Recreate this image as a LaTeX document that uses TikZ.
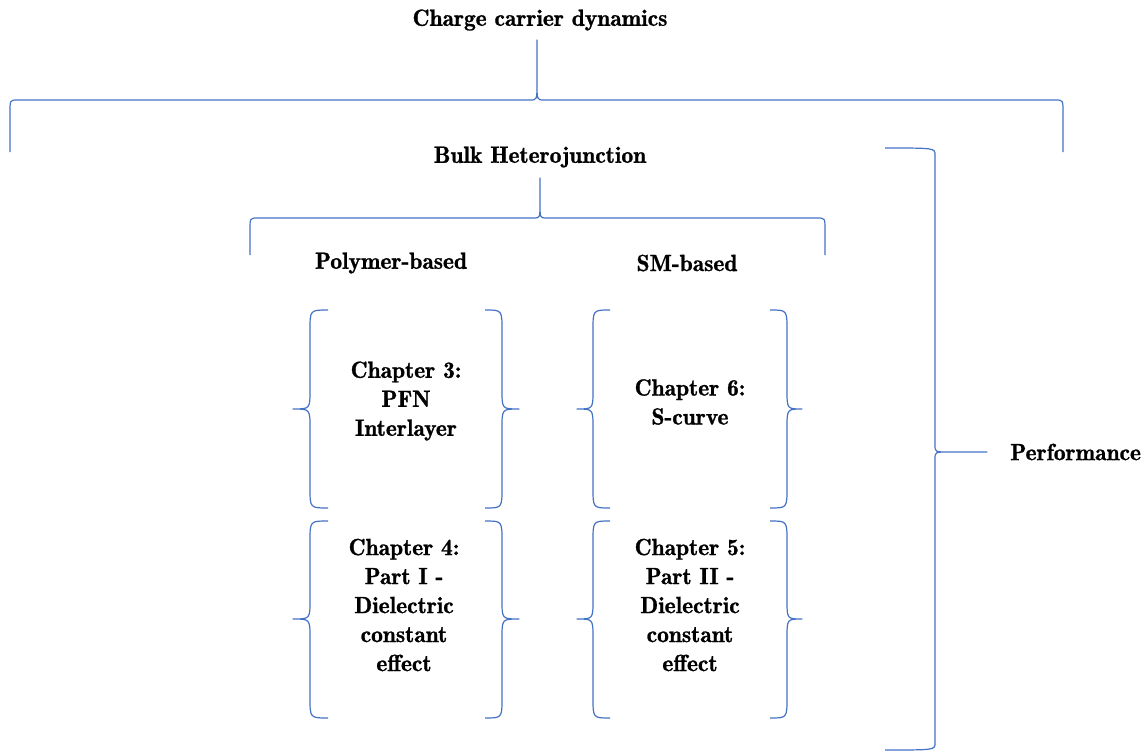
\documentclass[tikz,border=0pt]{standalone}
\usepackage{fontspec}
\newfontfamily\tnrb{lmromandemi10-regular.otf}[FakeBold=1]
\definecolor{braceblue}{RGB}{68,114,196}
\tikzset{
  brc/.style={draw=braceblue, line width=0.9pt, line join=round},
  lbl/.style={font=\tnrb\fontsize{17.6}{21.75}\selectfont, inner sep=0pt, align=center, text=black}
}
% horizontal brace opening downward
% #1 x left, #2 x tip, #3 x right, #4 y ends, #5 y line, #6 y tip, #7 corner dx, #8 corner dy, #9 tip dx
\newcommand{\mytipdy}{17}
\newcommand{\hbrace}[9]{%
  \draw[brc] (#1,#4) -- (#1,{#5+#8}) .. controls (#1,#5) .. ({#1+#7},#5)
    -- ({#2-#9},#5) .. controls (#2,#5) .. (#2,{#5-\mytipdy}) -- (#2,#6)
    -- (#2,{#5-\mytipdy}) .. controls (#2,#5) .. ({#2+#9},#5)
    -- ({#3-#7},#5) .. controls (#3,#5) .. (#3,{#5+#8}) -- (#3,#4);}
% vertical brace
% #1 arm x, #2 vertical x, #3 tip x, #4 y top, #5 y tip, #6 y bottom, #7 corner dy, #8 tip dy, #9 tip curve dx (signed)
\newcommand{\vbrace}[9]{%
  \draw[brc] (#1,#4) .. controls (#2,#4) .. (#2,{#4+#7})
    -- (#2,{#5-#8}) .. controls (#2,#5) .. ({#2+#9},#5) -- (#3,#5)
    -- ({#2+#9},#5) .. controls (#2,#5) .. (#2,{#5+#8})
    -- (#2,{#6-#7}) .. controls (#2,#6) .. (#1,#6);}
\begin{document}
\begin{tikzpicture}[x=0.75pt, y=-0.75pt]
\useasboundingbox (0,0) rectangle (1143,753);

% labels
\node[lbl] (ccd) at (540,20) {Charge carrier dynamics};
\node[lbl] (bhj) at (540,157) {Bulk Heterojunction};
\node[lbl] (poly) at (391,263) {Polymer-based};
\node[lbl] (sm) at (687,263) {SM-based};
\node[lbl] (ch3) at (406,401) {Chapter 3:\\PFN\\Interlayer};
\node[lbl] (ch6) at (690,402) {Chapter 6:\\S-curve};
\node[lbl] (ch4) at (404,605) {Chapter 4:\\Part I -\\Dielectric\\constant\\effect};
\node[lbl] (ch5) at (690,605) {Chapter 5:\\Part II -\\Dielectric\\constant\\effect};
\node[lbl, anchor=west] (perf) at (1010,452) {Performance};

% top brace
\renewcommand{\mytipdy}{17}
\hbrace{10}{537}{1063}{152}{100}{40}{8}{12}{7}
% bulk heterojunction brace
\renewcommand{\mytipdy}{15}
\hbrace{250}{540}{825}{255}{218}{178}{8}{12}{6}

% chapter braces, column 1
\vbrace{328}{310}{293}{310}{409}{508}{20}{19}{-17}
\vbrace{485}{502}{519}{310}{409}{508}{20}{19}{17}
\vbrace{328}{310}{293}{521}{619}{718}{20}{19}{-17}
\vbrace{485}{502}{519}{521}{619}{718}{20}{19}{17}
% chapter braces, column 2
\vbrace{610}{593}{577}{310}{409}{508}{20}{19}{-16}
\vbrace{770}{787}{802}{310}{409}{508}{20}{19}{15}
\vbrace{610}{593}{577}{521}{619}{718}{20}{19}{-16}
\vbrace{770}{787}{802}{521}{619}{718}{20}{19}{15}

% performance brace
\vbrace{885}{935}{987}{148}{452}{750}{7}{7}{14}
\end{tikzpicture}
\end{document}
